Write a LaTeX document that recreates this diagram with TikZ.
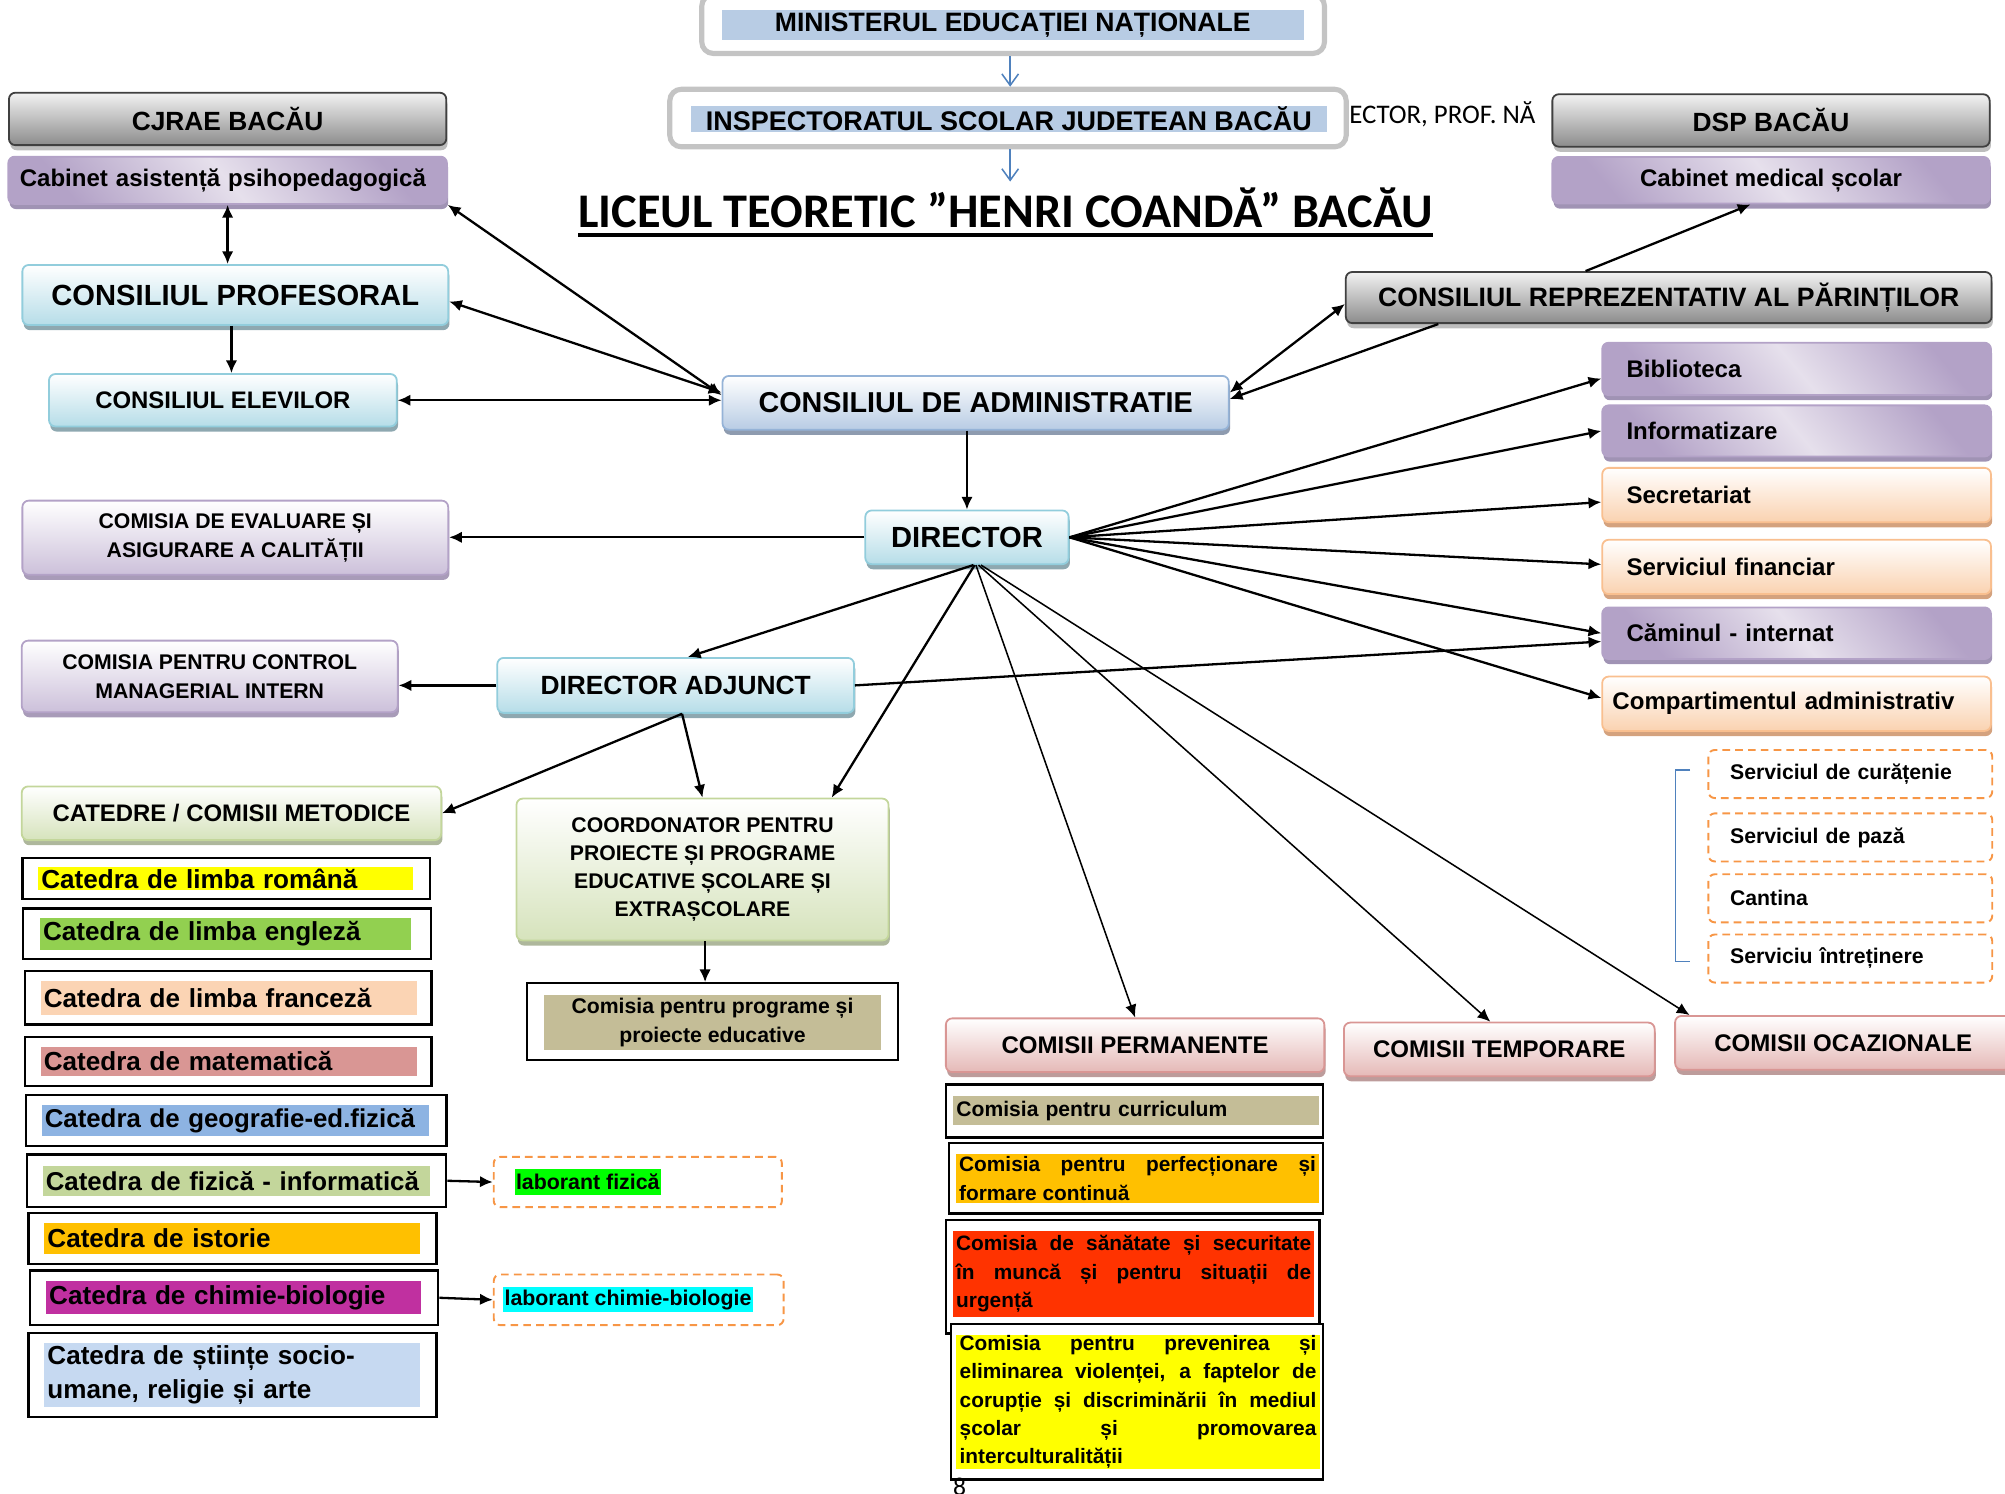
\documentclass[tikz,border=0pt]{standalone}
\usepackage{fontspec}
\setmainfont{Liberation Sans}
\newfontfamily\carlito{Carlito}
\usetikzlibrary{positioning, shadows, arrows.meta}

\definecolor{framegrey}{HTML}{C4C4C4}
\definecolor{menblue}{HTML}{B8CCE4}
\definecolor{isjblue}{HTML}{4F81BD}
\definecolor{greyline}{HTML}{404040}
\definecolor{greytop}{HTML}{F2F2F2}
\definecolor{greybot}{HTML}{8C8C8C}
\definecolor{greysh}{HTML}{BDBDBD}
\definecolor{violetD}{HTML}{B3A2C7}
\definecolor{violetL}{HTML}{E6E0EC}
\definecolor{violetsh}{HTML}{A093B4}
\definecolor{orangeline}{HTML}{F9BF8F}
\definecolor{orangebot}{HTML}{FAD2B0}
\definecolor{orangesh}{HTML}{D4A27E}
\definecolor{cyanline}{HTML}{92CDDC}
\definecolor{cyanbot}{HTML}{B6DDE8}
\definecolor{cyansh}{HTML}{8EA8B0}
\definecolor{blueline}{HTML}{95B3D7}
\definecolor{bluebot}{HTML}{B8CCE4}
\definecolor{bluesh}{HTML}{8E9BAF}
\definecolor{lilacbot}{HTML}{CCC0DA}
\definecolor{lilacsh}{HTML}{A89BB8}
\definecolor{greenline}{HTML}{C3D69B}
\definecolor{greenbot}{HTML}{D6E3BC}
\definecolor{greensh}{HTML}{AEB79C}
\definecolor{pinkline}{HTML}{D99694}
\definecolor{pinkbot}{HTML}{E5B9B7}
\definecolor{pinksh}{HTML}{BD9C9B}
\definecolor{dashorange}{HTML}{F79646}
\definecolor{hlyellow}{HTML}{FFFF00}
\definecolor{hlgreen}{HTML}{92D050}
\definecolor{hlpeach}{HTML}{FBD4B4}
\definecolor{hlrose}{HTML}{D99694}
\definecolor{hlblue}{HTML}{8DB3E2}
\definecolor{hlolive}{HTML}{C3D69B}
\definecolor{hlamber}{HTML}{FFC000}
\definecolor{hlmagenta}{HTML}{C030A0}
\definecolor{hlsky}{HTML}{C6D9F1}
\definecolor{khaki}{HTML}{C4BD97}
\definecolor{hlred}{HTML}{FF3300}
\definecolor{labgreen}{HTML}{00FF00}
\definecolor{labcyan}{HTML}{00FFFF}

\begin{document}
\begin{tikzpicture}[x=1pt, y=-1pt,
        every node/.style={inner sep=0pt, font=\bfseries},
        fnt/.style 2 args={font=\bfseries\fontsize{#1}{#2}\selectfont},
        lat/.tip={Latex[length=10pt, width=9pt]},
        arr/.style={-lat, line width=1.8pt},
        biarr/.style={lat-lat, line width=1.8pt},
        thinarr/.style={-lat, line width=1.2pt},
        bluearr/.style={-{Straight Barb[length=9pt, width=13pt]}, draw=isjblue, line width=1.2pt},
        frame/.style={draw=framegrey, line width=4pt, rounded corners=9pt, fill=white},
        card/.style={draw, rounded corners=5pt, line width=1.4pt, align=center},
        greycard/.style={card, draw=greyline, top color=greytop, bottom color=greybot,
            drop shadow={shadow xshift=1pt, shadow yshift=-4pt, opacity=1, fill=greysh}},
        violetcard/.style={card, draw=violetD, top color=violetD, bottom color=violetD, middle color=violetL,
            shading angle=-50, drop shadow={shadow xshift=1pt, shadow yshift=-4pt, opacity=1, fill=violetsh}},
        orangecard/.style={card, draw=orangeline, top color=white, bottom color=orangebot,
            drop shadow={shadow xshift=1pt, shadow yshift=-4pt, opacity=1, fill=orangesh}},
        cyancard/.style={card, draw=cyanline, top color=white, bottom color=cyanbot,
            drop shadow={shadow xshift=1pt, shadow yshift=-4pt, opacity=1, fill=cyansh}},
        bluecard/.style={card, draw=blueline, top color=white, bottom color=bluebot,
            drop shadow={shadow xshift=1pt, shadow yshift=-4pt, opacity=1, fill=bluesh}},
        lilaccard/.style={card, draw=violetD, top color=white, bottom color=lilacbot,
            drop shadow={shadow xshift=1pt, shadow yshift=-4pt, opacity=1, fill=lilacsh}},
        greencard/.style={card, draw=greenline, top color=white, bottom color=greenbot,
            drop shadow={shadow xshift=1pt, shadow yshift=-4pt, opacity=1, fill=greensh}},
        pinkcard/.style={card, draw=pinkline, top color=white, bottom color=pinkbot,
            drop shadow={shadow xshift=1pt, shadow yshift=-4pt, opacity=1, fill=pinksh}},
        dashcard/.style={draw=dashorange, dashed, dash pattern=on 6pt off 4pt, line width=1.5pt,
            rounded corners=5pt, fill=white, text width=188pt, align=left, fnt={16.6}{20}},
        plainbox/.style={draw, line width=1.8pt, fill=white},
        hl/.style={inner xsep=2.5pt, align=left, fnt={20.4}{27}}]

    \useasboundingbox (0,0) rectangle (1568,1168);

    % ministry and inspectorate
    \node[frame, minimum width=487pt, minimum height=46pt] (men) at (792.3,18.8) {};
    \node[fill=menblue, minimum width=455pt, minimum height=24pt, fnt={20.8}{25}] (menlbl) at (792,19.5) {MINISTERUL EDUCAȚIEI NAȚIONALE};
    \node[frame, minimum width=529pt, minimum height=45pt] (isj) at (788.3,92.3) {};
    \node[fill=menblue, minimum width=498pt, minimum height=20pt, fnt={21.1}{25}] (isjlbl) at (789,93) {INSPECTORATUL SCOLAR JUDETEAN BACĂU};
    \node[anchor=base west, font=\carlito\fontsize{21}{25}\selectfont] (dirname) at (1055,96.5) {ECTOR, PROF. NĂ};

    \node[anchor=base, font=\carlito\bfseries\fontsize{37.8}{44}\selectfont] (title) at (786.5,178) {LICEUL TEORETIC ”HENRI COANDĂ” BACĂU};
    \draw[line width=3pt] ([yshift=-6pt]title.base west) -- ([yshift=-6pt]title.base east);
    \coordinate (ttop) at (790,142);

    % left column
    \node[greycard, minimum width=342pt, minimum height=41pt, fnt={20.6}{25}] (cjrae) at (178,93) {CJRAE BACĂU};
    \node[violetcard, minimum width=343pt, minimum height=37pt, text width=325pt, align=left, fnt={18.8}{22}, below=7.6pt of cjrae] (cap) {Cabinet asistență psihopedagogică};
    \node[cyancard, minimum width=333pt, minimum height=47pt, fnt={22.8}{27}] (prof) at (184,230.7) {CONSILIUL PROFESORAL};
    \node[cyancard, minimum width=272pt, minimum height=41pt, fnt={18.7}{22}] (elev) at (174.3,313) {CONSILIUL ELEVILOR};
    \node[lilaccard, minimum width=333pt, minimum height=58pt, fnt={16.6}{22.6}] (ceac) at (184,420.5) {COMISIA DE EVALUARE ȘI\\ASIGURARE A CALITĂȚII};
    \node[lilaccard, minimum width=294pt, minimum height=56pt, fnt={16.6}{22.6}] (scim) at (164,529) {COMISIA PENTRU CONTROL\\MANAGERIAL INTERN};
    \node[greencard, minimum width=328pt, minimum height=42pt, fnt={18.7}{22}] (cat) at (181,636) {CATEDRE / COMISII METODICE};

    % catedre
    \node[plainbox, minimum width=319pt, minimum height=32pt] (rom) at (177,687.2) {};
    \node[hl, fill=hlyellow, text width=288pt, minimum height=18pt, right=13pt of rom.west] (romlbl) {Catedra de limba română};
    \node[plainbox, minimum width=319pt, minimum height=39.4pt] (eng) at (177.4,730.1) {};
    \node[hl, fill=hlgreen, text width=285pt, minimum height=25pt, right=14pt of eng.west] (englbl) {Catedra de limba engleză};
    \node[plainbox, minimum width=318pt, minimum height=42pt] (fra) at (178.5,780.3) {};
    \node[hl, fill=hlpeach, text width=289pt, minimum height=27pt, right=13pt of fra.west] (fralbl) {Catedra de limba franceză};
    \node[plainbox, minimum width=318pt, minimum height=38.5pt] (mat) at (178.5,830) {};
    \node[hl, fill=hlrose, text width=289pt, minimum height=22.4pt, right=13pt of mat.west] (matlbl) {Catedra de matematică};
    \node[plainbox, minimum width=329pt, minimum height=39.8pt] (geo) at (184.7,876.1) {};
    \node[hl, fill=hlblue, text width=298pt, minimum height=24pt, fnt={20.2}{27}, right=13pt of geo.west] (geolbl) {Catedra de geografie-ed.fizică};
    \node[plainbox, minimum width=328pt, minimum height=41pt] (fiz) at (185,923.4) {};
    \node[hl, fill=hlolive, text width=298pt, minimum height=23.5pt, fnt={20.2}{27}, right=13pt of fiz.west] (fizlbl) {Catedra de fizică - informatică};
    \node[plainbox, minimum width=319pt, minimum height=40.3pt] (ist) at (181.8,968.5) {};
    \node[hl, fill=hlamber, text width=288.6pt, minimum height=23.7pt, right=13pt of ist.west] (istlbl) {Catedra de istorie};
    \node[plainbox, minimum width=319pt, minimum height=42.8pt] (chi) at (183.2,1014.9) {};
    \node[hl, fill=hlmagenta, text width=288pt, minimum height=25.8pt, right=13pt of chi.west] (chilbl) {Catedra de chimie-biologie};
    \node[plainbox, minimum width=319pt, minimum height=65.8pt] (sti) at (181.8,1075.2) {};
    \node[hl, fill=hlsky, text width=288.6pt, minimum height=50pt, right=13pt of sti.west] (stilbl) {Catedra de științe socio-\\umane, religie și arte};

    % laboranti
    \node[dashcard, minimum width=225.4pt, minimum height=39.3pt] (lfiz) at (498.8,924.4) {};
    \node[fill=labgreen, inner xsep=1pt, minimum height=19.7pt, fnt={16.7}{20}, right=17pt of lfiz.west] (lfizlbl) {laborant fizică};
    \node[dashcard, minimum width=226.7pt, minimum height=39.6pt] (lchi) at (499.5,1016.5) {};
    \node[fill=labcyan, inner xsep=1pt, minimum height=19.5pt, fnt={16.7}{20}, right=8pt of lchi.west] (lchilbl) {laborant chimie-biologie};

    % centre
    \node[bluecard, minimum width=396pt, minimum height=42pt, fnt={22.5}{27}] (cda) at (763,315) {CONSILIUL DE ADMINISTRATIE};
    \node[cyancard, minimum width=159pt, minimum height=42pt, fnt={22.8}{27}] (dir) at (756.2,420.2) {DIRECTOR};
    \node[cyancard, minimum width=279pt, minimum height=43pt, fnt={20.6}{25}] (dadj) at (528.4,536) {DIRECTOR ADJUNCT};
    \node[greencard, minimum width=291pt, minimum height=111pt, fnt={16.6}{22.1}] (coord) at (549.4,680) {COORDONATOR PENTRU\\PROIECTE ȘI PROGRAME\\EDUCATIVE ȘCOLARE ȘI\\EXTRAȘCOLARE};
    \node[plainbox, minimum width=290pt, minimum height=60pt] (cpp) at (557,799) {};
    \node[hl, fill=khaki, minimum width=264pt, minimum height=43pt, align=center, fnt={16.6}{22.2}] (cpplbl) at (557.2,799.6) {Comisia pentru programe și\\proiecte educative};

    % right column
    \node[greycard, minimum width=342pt, minimum height=41pt, fnt={20.6}{25}] (dsp) at (1385,94.2) {DSP BACĂU};
    \node[violetcard, minimum width=342pt, minimum height=36.5pt, fnt={18.8}{22}, below=6.6pt of dsp] (cms) {Cabinet medical școlar};
    \node[greycard, minimum width=505pt, minimum height=40pt, fnt={20.8}{25}] (crp) at (1305,232.7) {CONSILIUL REPREZENTATIV AL PĂRINȚILOR};
    \node[violetcard, minimum width=304pt, minimum height=41pt, text width=266pt, align=left, fnt={18.8}{22}] (bib) at (1405,288.5) {Biblioteca};
    \node[violetcard, minimum width=304pt, minimum height=40pt, text width=266pt, align=left, fnt={18.8}{22}, below=6.6pt of bib] (inf) {Informatizare};
    \node[orangecard, minimum width=304pt, minimum height=42.5pt, text width=266pt, align=left, fnt={18.8}{22}, below=7.5pt of inf] (sec) {Secretariat};
    \node[orangecard, minimum width=304pt, minimum height=42.5pt, text width=266pt, align=left, fnt={18.8}{22}, below=12.3pt of sec] (fin) {Serviciul financiar};
    \node[violetcard, minimum width=304pt, minimum height=40.4pt, text width=266pt, align=left, fnt={18.8}{22}, below=9pt of fin] (cam) {Căminul - internat};
    \node[orangecard, minimum width=304pt, minimum height=42.5pt, text width=288pt, align=left, fnt={18.8}{22}, below=12.3pt of cam] (comp) {Compartimentul administrativ};

    \node[dashcard, minimum width=222pt, minimum height=37.6pt] (scur) at (1447,605.3) {Serviciul de curățenie};
    \node[dashcard, minimum width=222pt, minimum height=37.6pt, below=10.5pt of scur] (spaz) {Serviciul de pază};
    \node[dashcard, minimum width=222pt, minimum height=37.6pt, below=8.5pt of spaz] (scant) {Cantina};
    \node[dashcard, minimum width=222pt, minimum height=37.6pt, below=8pt of scant] (sintr) {Serviciu întreținere};
    \draw[isjblue, line width=1.2pt] ([xshift=-13.5pt, yshift=3pt]scur.west) -- ++(-11.5,0) |- ([xshift=-13.5pt, yshift=-2.5pt]sintr.west);

    % comisii
    \node[pinkcard, minimum width=296pt, minimum height=42pt, fnt={18.8}{22}] (perm) at (887.7,817.4) {COMISII PERMANENTE};
    \node[pinkcard, minimum width=243pt, minimum height=42pt, fnt={18.8}{22}] (temp) at (1172.5,820.7) {COMISII TEMPORARE};
    \node[pinkcard, minimum width=263pt, minimum height=42pt, fnt={18.8}{22}] (ocaz) at (1441.5,815.5) {COMISII OCAZIONALE};

    \node[plainbox, minimum width=295pt, minimum height=41.5pt] (ccur) at (887.2,868.8) {};
    \node[hl, fill=khaki, text width=281pt, minimum height=22.7pt, fnt={16.5}{22.1}] (ccurlbl) at (888.5,868.5) {Comisia pentru curriculum};
    \node[plainbox, minimum width=292.6pt, minimum height=55.3pt] (cper) at (888.3,921.4) {};
    \node[hl, fill=hlamber, text width=279pt, minimum height=38pt, align=justify, fnt={16.3}{22.1}] (cperlbl) at (889.6,921.6) {Comisia pentru perfecționare și\linebreak formare continuă};
    \node[plainbox, minimum width=292pt, minimum height=88.6pt] (csan) at (885.8,998.5) {};
    \node[hl, fill=hlred, text width=277.7pt, minimum height=67.3pt, align=justify, fnt={16.3}{22.1}] (csanlbl) at (886.6,996.2) {Comisia de sănătate și securitate\linebreak în muncă și pentru situații de\linebreak urgență};
    \node[plainbox, minimum width=291pt, minimum height=121.4pt] (cpre) at (889.1,1096.3) {};
    \node[hl, fill=hlyellow, text width=279pt, minimum height=104.3pt, align=justify, fnt={16.3}{22.1}] (cprelbl) at (890,1096.3) {Comisia pentru prevenirea și\linebreak eliminarea violenței, a faptelor de\linebreak corupție și discriminării în mediul\linebreak școlar și promovarea\linebreak interculturalității};
    \node[anchor=north, font=\carlito\fontsize{20}{24}\selectfont] (pg) at (750.5,1156) {8};

    % connectors
    \draw[bluearr] (men.south -| ttop) -- (isj.north -| ttop);
    \draw[bluearr] (isj.south -| ttop) -- (ttop);
    \draw[biarr] (cap.south) -- (cap.south |- prof.north);
    \draw[arr] ([xshift=-3pt]prof.south) -- ([xshift=-3pt]prof.south |- elev.north);
    \draw[biarr] (elev.east) -- (elev.east -| cda.west);
    \draw[biarr] (cap.south east) -- ([yshift=6pt]cda.west);
    \draw[biarr] ([yshift=-5pt]prof.east) -- ([yshift=8pt]cda.west);
    \draw[biarr] ([yshift=8pt]cda.east) -- ([yshift=-5pt]crp.west);
    \draw[arr] ([xshift=73pt]crp.south west) -- ([yshift=3pt]cda.east);
    \draw[arr] ([xshift=-65pt]crp.north) -- ([xshift=-16pt]cms.south);
    \draw[arr] (dir.north |- cda.south) -- (dir.north);
    \draw[arr] (dir.west) -- (dir.west -| ceac.east);
    \draw[arr] (dir.east) -- ([yshift=-7.5pt]bib.west);
    \draw[arr] (dir.east) -- (inf.west);
    \draw[arr] (dir.east) -- ([yshift=-5.5pt]sec.west);
    \draw[arr] (dir.east) -- ([yshift=2pt]fin.west);
    \draw[arr] (dir.east) -- (cam.west);
    \draw[arr] (dir.east) -- ([yshift=4.5pt]comp.west);
    \draw[arr] ([xshift=5pt]dir.south) -- ([xshift=9.5pt]dadj.north);
    \draw[arr] ([xshift=6pt]dir.south) -- ([xshift=101pt]coord.north);
    \draw[thinarr] ([xshift=7pt]dir.south) -- (perm.north);
    \draw[thinarr] ([xshift=9pt]dir.south) -- ([xshift=-7pt]temp.north);
    \draw[thinarr] ([xshift=11pt]dir.south) -- ([xshift=12pt]ocaz.north west);
    \draw[arr] (dadj.west) -- (dadj.west -| scim.east);
    \draw[arr] ([xshift=5pt]dadj.south) -- (cat.east);
    \draw[arr] ([xshift=5pt]dadj.south) -- (coord.north);
    \draw[arr] (dadj.east) -- ([yshift=-6.5pt]cam.west);
    \draw[arr] ([xshift=2pt]coord.south) -- ([xshift=2pt]coord.south |- cpp.north);
    \draw[arr] (fiz.east) -- (lfiz.west);
    \draw[arr] (chi.east) -- (lchi.west);
\end{tikzpicture}
\end{document}
